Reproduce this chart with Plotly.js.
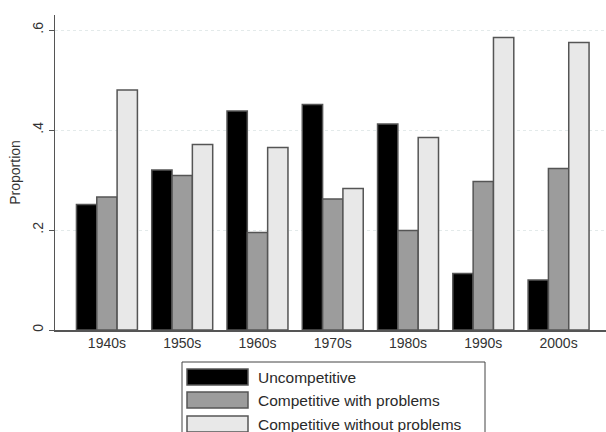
<!DOCTYPE html>
<html>
<head>
<meta charset="utf-8">
<script src="https://cdn.plot.ly/plotly-3.0.1.min.js"></script>
<style>html,body{margin:0;padding:0;background:#fff;}#chart{width:606px;height:432px;}</style>
</head>
<body>
<div id="chart"></div>
<script>
var decades = ["1940s", "1950s", "1960s", "1970s", "1980s", "1990s", "2000s"];
var uncompetitive = [0.251, 0.320, 0.438, 0.451, 0.412, 0.113, 0.100];
var competitiveWithProblems = [0.266, 0.309, 0.195, 0.262, 0.199, 0.297, 0.323];
var competitiveWithoutProblems = [0.480, 0.371, 0.365, 0.283, 0.385, 0.585, 0.575];
var seriesNames = ["Uncompetitive", "Competitive with problems", "Competitive without problems"];
var yTickVals = [0, 0.2, 0.4, 0.6];
var yTickText = ["0", ".2", ".4", ".6"];

var colors = ["#000000", "#9c9c9c", "#e8e8e8"];
var outline = "#555555";
var W = 606, H = 432, mL = 55, mR = 0, mT = 15, mB = 102;
var pw = W - mL - mR, ph = H - mT - mB;
function px(x) { return (x - mL) / pw; }
function py(y) { return (H - mB - y) / ph; }

var seriesData = [uncompetitive, competitiveWithProblems, competitiveWithoutProblems];
var traces = seriesData.map(function (vals, i) {
  return {
    type: "bar", x: decades, y: vals, name: seriesNames[i],
    marker: { color: colors[i], line: { color: outline, width: 1.5 } },
    showlegend: false, hoverinfo: "skip"
  };
});

var fam = "Liberation Sans, Arial, sans-serif";
var shapes = [{
  type: "rect", xref: "paper", yref: "paper",
  x0: px(182), x1: px(485), y0: py(362), y1: py(446),
  line: { color: "#444", width: 1 }, fillcolor: "#fff"
}];
var annotations = [];
var rows = [[369, 385], [392, 408], [416, 432]];
seriesNames.forEach(function (n, i) {
  shapes.push({
    type: "rect", xref: "paper", yref: "paper",
    x0: px(187), x1: px(248), y0: py(rows[i][0]), y1: py(rows[i][1]),
    line: { color: outline, width: 1.5 }, fillcolor: colors[i]
  });
  annotations.push({
    xref: "paper", yref: "paper", x: px(256), y: py((rows[i][0] + rows[i][1]) / 2),
    xanchor: "left", yanchor: "middle", showarrow: false, text: n,
    font: { family: fam, size: 15.5, color: "#2a2a2a" }
  });
});

var layout = {
  width: W, height: H,
  margin: { l: mL, r: mR, t: mT, b: mB },
  paper_bgcolor: "#fff", plot_bgcolor: "#fff",
  font: { family: fam, size: 14, color: "#333" },
  barmode: "group", bargap: 0.19, bargroupgap: 0,
  xaxis: {
    type: "category", range: [-0.69, 6.63],
    showgrid: false, showline: true, linecolor: "#555", linewidth: 1.5,
    ticks: "", tickfont: { family: fam, size: 14, color: "#333" },
    zeroline: false, fixedrange: true
  },
  yaxis: {
    range: [0, 0.63], tickvals: yTickVals, ticktext: yTickText,
    tickangle: -90, ticks: "outside", ticklen: 5, tickcolor: "#555", tickwidth: 1,
    showline: true, linecolor: "#555", linewidth: 1.5,
    showgrid: true, gridcolor: "#e3eaea", griddash: "dot", gridwidth: 1,
    zeroline: false,
    tickfont: { family: fam, size: 14, color: "#333" },
    title: { text: "Proportion", font: { family: fam, size: 14, color: "#333" }, standoff: 6 }
  },
  shapes: shapes,
  annotations: annotations
};

Plotly.newPlot("chart", traces, layout, { displayModeBar: false, staticPlot: true });
</script>
</body>
</html>
